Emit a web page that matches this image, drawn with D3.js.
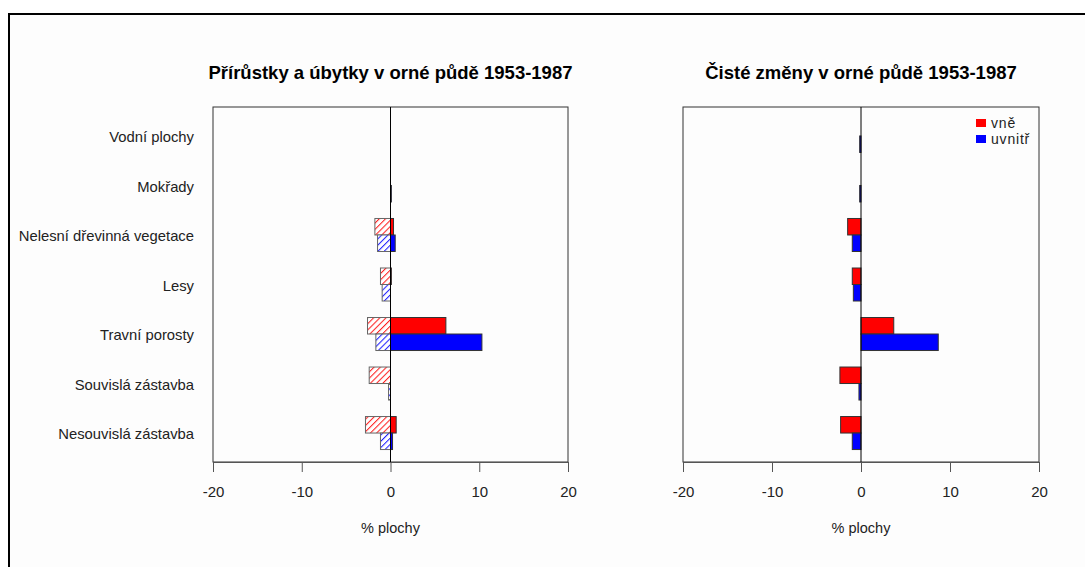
<!DOCTYPE html>
<html>
<head>
<meta charset="utf-8">
<script src="https://cdn.jsdelivr.net/npm/d3@7"></script>
<style>
  html, body { margin: 0; padding: 0; background: #ffffff; }
  svg { display: block; font-family: "Liberation Sans", Arial, sans-serif; }
</style>
</head>
<body>
<svg id="chart" width="1085" height="567"></svg>
<script>
// Land-use categories, top to bottom
const categories = [
  "Vodní plochy",
  "Mokřady",
  "Nelesní dřevinná vegetace",
  "Lesy",
  "Travní porosty",
  "Souvislá zástavba",
  "Nesouvislá zástavba"
];

// Series (outside / inside)
const seriesKeys = ["vně", "uvnitř"];
const seriesColors = ["#ff0000", "#0000ff"];
const hatchColors = ["#ff2020", "#2020ff"];

// Gains (solid) and losses (hatched), % of area
const gainOut = [0, 0, 0.34, 0.1, 6.24, 0, 0.64];
const lossOut = [0, 0, -1.76, -1.13, -2.59, -2.40, -2.82];
const gainIn  = [0, 0.1, 0.53, 0, 10.3, 0, 0.23];
const lossIn  = [0, 0, -1.46, -0.94, -1.65, -0.22, -1.13];

// Net changes, % of area
const netOut = [0, 0, -1.50, -0.98, 3.68, -2.37, -2.29];
const netIn  = [-0.15, -0.15, -0.98, -0.86, 8.68, -0.23, -0.98];

const tickValues = [-20, -10, 0, 10, 20];
const titles = [
  "Přírůstky a úbytky v orné půdě 1953-1987",
  "Čisté změny v orné půdě 1953-1987"
];
const xLabel = "% plochy";

const svg = d3.select("#chart");

// Outer frame
svg.append("rect")
  .attr("x", 9).attr("y", 14)
  .attr("width", 1200).attr("height", 700)
  .attr("fill", "#fdfdfd")
  .attr("stroke", "#000").attr("stroke-width", 2);

// Hatch patterns
const defs = svg.append("defs");
seriesKeys.forEach((k, i) => {
  const p = defs.append("pattern")
    .attr("id", "hatch" + i)
    .attr("patternUnits", "userSpaceOnUse")
    .attr("width", 4.4).attr("height", 4.4)
    .attr("patternTransform", "rotate(45)");
  p.append("rect").attr("width", 4.4).attr("height", 4.4).attr("fill", "#ffffff");
  p.append("line")
    .attr("x1", 0.5).attr("y1", 0).attr("x2", 0.5).attr("y2", 4.4)
    .attr("stroke", hatchColors[i]).attr("stroke-width", 1.1);
});

const plotTop = 107, plotBottom = 462;

const y = d3.scaleBand()
  .domain(categories)
  .range([plotTop, plotBottom])
  .paddingInner(0)
  .paddingOuter(0.085);

const ySub = d3.scaleBand()
  .domain(seriesKeys)
  .range([0, y.step()])
  .paddingInner(0)
  .paddingOuter(0.5);

function panel(x0, x1, title, bars) {
  const x = d3.scaleLinear().domain([-20, 20]).range([x0, x1]);
  const g = svg.append("g");

  // Panel box
  g.append("rect")
    .attr("x", x0).attr("y", plotTop)
    .attr("width", x1 - x0).attr("height", plotBottom - plotTop)
    .attr("fill", "none").attr("stroke", "#333").attr("stroke-width", 1);

  // Bars
  bars.forEach(b => {
    g.selectAll(null)
      .data(b.values.map((v, i) => ({ v, cat: categories[i] })))
      .join("rect")
      .attr("x", d => Math.min(x(0), x(d.v)))
      .attr("y", d => y(d.cat) + ySub(b.key))
      .attr("width", d => Math.abs(x(d.v) - x(0)))
      .attr("height", ySub.bandwidth())
      .attr("fill", b.fill)
      .attr("stroke", b.stroke)
      .attr("stroke-width", 1);
  });

  // Zero line
  g.append("line")
    .attr("x1", x(0)).attr("x2", x(0))
    .attr("y1", plotTop).attr("y2", plotBottom)
    .attr("stroke", "#000").attr("stroke-width", 1);

  // X axis
  const ax = g.append("g")
    .attr("transform", `translate(0,${plotBottom})`)
    .call(d3.axisBottom(x)
      .tickValues(tickValues)
      .tickFormat(d => String(d))
      .tickSize(10)
      .tickSizeOuter(0)
      .tickPadding(14));
  ax.select(".domain").attr("stroke", "#555");
  ax.selectAll(".tick line").attr("stroke", "#555");
  ax.selectAll(".tick text")
    .attr("fill", "#222")
    .attr("font-size", 15)
    .attr("font-family", "Liberation Sans, Arial, sans-serif");

  // Axis title
  g.append("text")
    .attr("x", (x0 + x1) / 2).attr("y", 533)
    .attr("text-anchor", "middle")
    .attr("font-size", 14.5).attr("fill", "#222")
    .text(xLabel);

  // Title
  g.append("text")
    .attr("x", (x0 + x1) / 2).attr("y", 79)
    .attr("text-anchor", "middle")
    .attr("font-size", 18.5).attr("font-weight", "bold").attr("fill", "#000")
    .text(title);

  return { g, x };
}

// Left panel: gains and losses
panel(213, 568, titles[0], [
  { key: "vně", values: lossOut, fill: "url(#hatch0)", stroke: "#666" },
  { key: "uvnitř", values: lossIn, fill: "url(#hatch1)", stroke: "#666" },
  { key: "vně", values: gainOut, fill: seriesColors[0], stroke: "#333" },
  { key: "uvnitř", values: gainIn, fill: seriesColors[1], stroke: "#333" }
]);

// Category labels
svg.append("g").selectAll("text")
  .data(categories)
  .join("text")
  .attr("x", 194)
  .attr("y", d => y(d) + y.step() / 2 + 1)
  .attr("dy", "0.35em")
  .attr("text-anchor", "end")
  .attr("font-size", 14.8).attr("fill", "#222")
  .text(d => d);

// Right panel: net changes
panel(683, 1039, titles[1], [
  { key: "vně", values: netOut, fill: seriesColors[0], stroke: "#333" },
  { key: "uvnitř", values: netIn, fill: seriesColors[1], stroke: "#333" }
]);

// Legend
const legend = svg.append("g");
seriesKeys.forEach((k, i) => {
  legend.append("rect")
    .attr("x", 976).attr("y", 119 + i * 16)
    .attr("width", 10).attr("height", 8)
    .attr("fill", seriesColors[i]);
  legend.append("text")
    .attr("x", 991).attr("y", 123 + i * 16)
    .attr("dy", "0.35em")
    .attr("font-size", 14).attr("fill", "#222")
    .attr("letter-spacing", 0.8)
    .text(k);
});
</script>
</body>
</html>
